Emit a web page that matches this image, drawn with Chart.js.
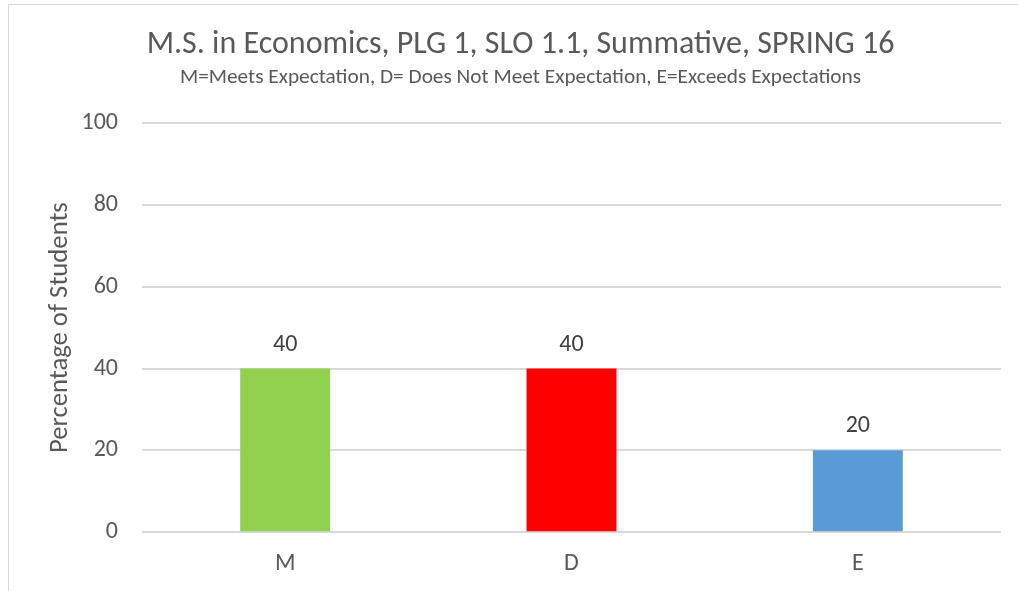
<!DOCTYPE html>
<html>
<head>
<meta charset="utf-8">
<title>M.S. in Economics, PLG 1, SLO 1.1</title>
<script src="https://cdn.jsdelivr.net/npm/chart.js@4.4.1/dist/chart.umd.min.js"></script>
<style>
    html, body { margin: 0; padding: 0; background: #fff; }
    #wrap { position: relative; width: 1018px; height: 591px; overflow: hidden; }
    #frame { position: absolute; left: 8px; top: 4px; width: 1030px; height: 600px; border: 1px solid #d9d9d9; box-sizing: border-box; }
    #chart { position: absolute; left: 0; top: 0; }
</style>
</head>
<body>
<div id="wrap">
    <div id="frame"></div>
    <canvas id="chart" width="1018" height="591"></canvas>
</div>
<script>
// chart data
const categories = ['M', 'D', 'E'];
const percentages = [40, 40, 20];
const barColors = ['#92D050', '#FF0000', '#5B9BD5'];
const yTicks = [0, 20, 40, 60, 80, 100];

const textColor = '#595959';
const labelColor = '#404040';
const gridColor = '#d9d9d9';
const fontFamily = "Calibri, Carlito, 'Open Sans', sans-serif";

// draws the value above each bar
const valueLabels = {
    id: 'valueLabels',
    afterDatasetsDraw(chart) {
        const ctx = chart.ctx;
        const meta = chart.getDatasetMeta(0);
        ctx.save();
        ctx.fillStyle = labelColor;
        ctx.font = `24px ${fontFamily}`;
        ctx.textAlign = 'center';
        ctx.textBaseline = 'alphabetic';
        meta.data.forEach((bar, i) => {
            ctx.fillText(String(percentages[i]), bar.x, bar.y - 18);
        });
        ctx.restore();
    }
};

const ctx = document.getElementById('chart').getContext('2d');

new Chart(ctx, {
    type: 'bar',
    data: {
        labels: categories,
        datasets: [{
            data: percentages,
            backgroundColor: barColors,
            borderWidth: 0,
            categoryPercentage: 1,
            barPercentage: 0.314
        }]
    },
    options: {
        responsive: false,
        animation: false,
        layout: { padding: { left: 40, right: 17, top: 22, bottom: 4 } },
        plugins: {
            legend: { display: false },
            tooltip: { enabled: false },
            title: {
                display: true,
                text: 'M.S. in Economics, PLG 1, SLO 1.1, Summative, SPRING 16',
                color: textColor,
                font: { family: fontFamily, size: 32, weight: 'normal' },
                padding: { top: 4, bottom: 0 }
            },
            subtitle: {
                display: true,
                text: 'M=Meets Expectation, D= Does Not Meet Expectation, E=Exceeds Expectations',
                color: textColor,
                font: { family: fontFamily, size: 21.3, weight: 'normal' },
                padding: { top: 0, bottom: 33 }
            }
        },
        scales: {
            x: {
                grid: { display: false },
                border: { display: false },
                ticks: {
                    color: textColor,
                    font: { family: fontFamily, size: 24 },
                    padding: 9
                }
            },
            y: {
                min: 0,
                max: 100,
                afterBuildTicks(scale) {
                    scale.ticks = yTicks.map(v => ({ value: v }));
                },
                afterFit(scale) {
                    scale.width = 102;
                },
                grid: { color: gridColor, lineWidth: 2, drawTicks: false },
                border: { display: false },
                ticks: {
                    color: textColor,
                    font: { family: fontFamily, size: 24 },
                    padding: 24
                },
                title: {
                    display: true,
                    text: 'Percentage of Students',
                    color: textColor,
                    font: { family: fontFamily, size: 26.7 },
                    padding: { top: 4, bottom: 0 }
                }
            }
        }
    },
    plugins: [valueLabels]
});
</script>
</body>
</html>
